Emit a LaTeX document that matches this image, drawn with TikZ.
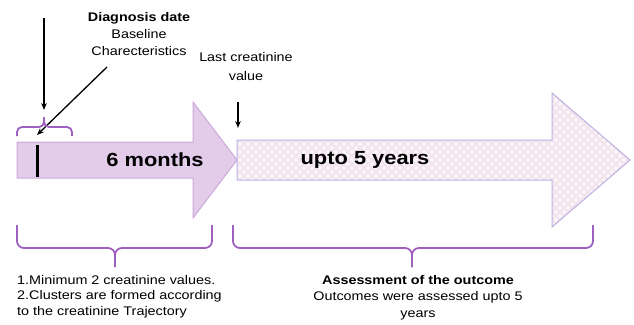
\documentclass[tikz,border=0pt]{standalone}
\usepackage{fontspec}
\setmainfont{Liberation Sans}[FakeStretch=1.15]
\usetikzlibrary{arrows.meta}
\definecolor{afill}{HTML}{E3CBEA}
\definecolor{aline}{HTML}{CDA9DA}
\definecolor{brc}{HTML}{9E5FBF}
\definecolor{bline}{HTML}{BCB0E2}
\definecolor{bfill}{HTML}{FCF8FB}
\definecolor{hatch}{HTML}{F2E5EE}
\tikzset{
  pointer/.style={draw=black, line width=1.3pt, -{Stealth[length=7pt,width=5.5pt]}},
  bracepart/.style={draw=brc, line width=1.8pt, rounded corners=7pt},
  smalltxt/.style={font=\fontsize{12.5}{16}\selectfont, inner sep=0pt, align=center},
  bigtxt/.style={font=\fontsize{19}{22}\selectfont\bfseries, inner sep=0pt}
}
\begin{document}
\begin{tikzpicture}[x=1pt,y=-1pt]
\useasboundingbox (0,0) rectangle (634,324);
\fill[white] (0,0) rectangle (634,324);
% first arrow
\draw[fill=afill, draw=aline, line width=1pt]
  (17,142) -- (193,142) -- (193,102) -- (237,160) -- (193,218) -- (193,178) -- (17,178) -- cycle;
% second arrow (hatched)
\fill[bfill] (237,140) -- (552,140) -- (552,93) -- (630,160) -- (552,227) -- (552,180) -- (237,180) -- cycle;
\begin{scope}
  \clip (237,140) -- (552,140) -- (552,93) -- (630,160) -- (552,227) -- (552,180) -- (237,180) -- cycle;
  \foreach \i in {60,68,...,640} {
    \draw[hatch, line width=2.2pt] (\i,80) -- ({\i+160},240);
    \draw[hatch, line width=2.2pt] (\i,240) -- ({\i+160},80);
  }
\end{scope}
\draw[draw=bline, line width=1pt]
  (237,140) -- (552,140) -- (552,93) -- (630,160) -- (552,227) -- (552,180) -- (237,180) -- cycle;
% black bar
\draw[black, line width=3pt] (37,145) -- (37,177);
% labels in arrows
\node[bigtxt] (six) at (155,160) {6 months};
\node[bigtxt] (upto) at (365,160) {upto 5 years};
% top text
\node[smalltxt, font=\fontsize{12.5}{17}\selectfont] (diag) at (139,34) {\textbf{Diagnosis date}\\Baseline\\Charecteristics};
\node[smalltxt, font=\fontsize{12.5}{19}\selectfont] (last) at (246,67) {Last creatinine\\value};
% pointers
\coordinate (d1) at (44,18);
\coordinate (d2) at (44,110);
\coordinate (g1) at (107,67);
\coordinate (g2) at (37,135);
\coordinate (l1) at (238,102);
\coordinate (l2) at (238,128);
\draw[pointer] (d1) -- (d2);
\draw[pointer] (g1) -- (g2);
\draw[pointer] (l1) -- (l2);
% top brace
\draw[bracepart, rounded corners=5pt] (17,136) -- (17,127) -- (44,127) -- (44,117);
\draw[bracepart, rounded corners=5pt] (72,136) -- (72,127) -- (44,127) -- (44,117);
% bottom braces
\draw[bracepart] (17,225) -- (17,248) -- (115,248) -- (115,267);
\draw[bracepart] (212,225) -- (212,248) -- (115,248) -- (115,267);
\draw[bracepart] (233,225) -- (233,248) -- (412,248) -- (412,267);
\draw[bracepart] (593,225) -- (593,248) -- (412,248) -- (412,267);
% bottom texts
\node[smalltxt, align=left, anchor=north west, font=\fontsize{12.5}{15.5}\selectfont] (crit) at (17,275)
  {1.Minimum 2 creatinine values.\\2.Clusters are formed according\\to the creatinine Trajectory};
\node[smalltxt, anchor=north, font=\fontsize{12.5}{16.5}\selectfont] (assess) at (418,275)
  {\textbf{Assessment of the outcome}\\Outcomes were assessed upto 5\\years};
\end{tikzpicture}
\end{document}
